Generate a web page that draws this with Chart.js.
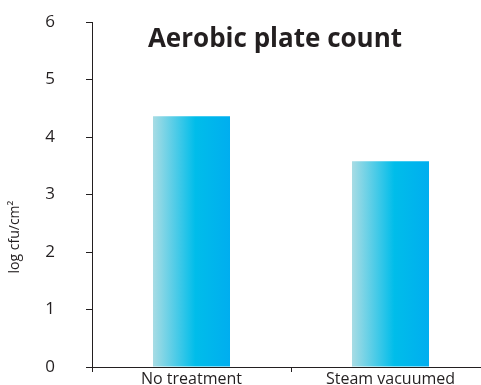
<!DOCTYPE html>
<html><head><meta charset="utf-8">
<style>html,body{margin:0;padding:0;overflow:hidden;background:#fff}canvas{display:block}</style>
<script src="https://cdn.jsdelivr.net/npm/chart.js@4.4.1/dist/chart.umd.min.js"></script>
</head><body>
<canvas id="c" width="494" height="385" style="width:494px;height:385px"></canvas>
<script>
const categories = ['No treatment', 'Steam vacuumed'];
const values = [4.36, 3.58];
const yTicks = [0, 1, 2, 3, 4, 5, 6];
const chartTitle = 'Aerobic plate count';
const yAxisTitle = 'log cfu/cm²';

const ink = '#231f20';
const FONT = '"Open Sans", "Liberation Sans", sans-serif';
const BAR_PCT = 0.387;

function barGradient(ctx) {
  const chart = ctx.chart;
  const xs = chart.scales.x;
  if (!xs || !chart.chartArea) return '#00b4ec';
  const cx = xs.getPixelForValue(ctx.dataIndex);
  const w = (xs.width / categories.length) * BAR_PCT;
  const x0 = cx - w / 2;
  const g = chart.ctx.createLinearGradient(x0, 0, x0 + w, 0);
  g.addColorStop(0, '#a8dce4');
  g.addColorStop(0.55, '#00bdea');
  g.addColorStop(1, '#00aeef');
  return g;
}

const textPlugin = {
  id: 'extraText',
  afterDraw(chart) {
    const c = chart.ctx;
    c.save();
    c.font = 'bold 26px ' + FONT;
    c.fillStyle = ink;
    c.textAlign = 'center';
    c.textBaseline = 'alphabetic';
    c.fillText(chartTitle, 275, 47);
    c.restore();
    c.save();
    c.translate(15, 237);
    c.rotate(-Math.PI / 2);
    c.font = '14px ' + FONT;
    c.fillStyle = ink;
    c.textAlign = 'center';
    c.textBaseline = 'middle';
    c.fillText(yAxisTitle, 0, 0);
    c.restore();
  }
};

new Chart(document.getElementById('c'), {
  type: 'bar',
  data: {
    labels: categories,
    datasets: [{
      data: values,
      backgroundColor: barGradient,
      borderWidth: 0,
      barPercentage: BAR_PCT,
      categoryPercentage: 1
    }]
  },
  options: {
    responsive: false,
    animation: false,
    devicePixelRatio: 1,
    layout: { padding: { top: 22, right: 4, left: 0, bottom: 0 } },
    plugins: { legend: { display: false }, tooltip: { enabled: false }, title: { display: false } },
    scales: {
      x: {
        grid: { display: true, drawOnChartArea: false, drawTicks: true, tickLength: 5, color: ink, offset: true },
        border: { display: true, color: ink, width: 1 },
        ticks: { color: ink, font: { family: FONT, size: 16 }, padding: -2, maxRotation: 0, autoSkip: false },
        afterFit(s) { s.height = 18; s.paddingLeft = 0; s.paddingRight = 0; }
      },
      y: {
        min: yTicks[0], max: yTicks[yTicks.length - 1],
        afterBuildTicks(s) { s.ticks = yTicks.map(v => ({ value: v })); },
        ticks: { color: ink, font: { family: FONT, size: 17 }, padding: 31 },
        grid: { drawOnChartArea: false, tickLength: 6, color: ink },
        border: { color: ink, width: 1 },
        afterFit(s) { s.width = 92; s.paddingTop = 0; s.paddingBottom = 0; }
      }
    }
  },
  plugins: [textPlugin]
});
</script>
</body></html>
